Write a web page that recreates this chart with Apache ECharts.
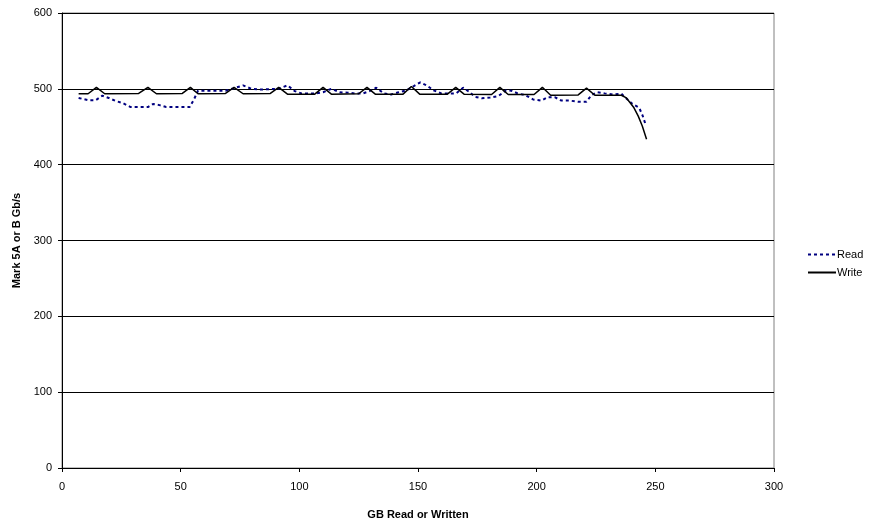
<!DOCTYPE html>
<html>
<head>
<meta charset="utf-8">
<script src="https://cdn.jsdelivr.net/npm/echarts@6/dist/echarts.min.js"></script>
<style>html,body{margin:0;padding:0;background:#fff}#c{width:885px;height:525px}</style>
</head>
<body>
<div id="c"></div>
<script>
var readX = [7,11.1,14.2,17,19.7,22.6,25.4,28.9,32.5,36.2,38.3,41.1,43.9,47.5,51,53.8,55.6,57.3,61,65,68.9,72.1,76.3,79.8,83.5,87.5,91,95,98.1,100.9,104,107.2,110,113.5,117,120.5,123.3,126.8,129.6,132.4,135.6,138.7,141.8,145.1,148.2,151,153.7,156.6,159.8,163,166.1,169,171.8,173.9,176.9,180.4,183.9,187.1,189.3,192,195.3,198.5,202,204.7,207.6,210.4,213.9,217.4,221,223,225.4,228.7,232.3,235.7,240.2,243.2,244.6,246];
var readY = [488,485,485,491,488,484,481.5,476,476,476,480,478.5,476,476,476,476,486,497.5,497.5,497.5,497.5,500.5,504.5,500,499,499.5,500,504.5,497,494,494,494,495.5,500,495.5,495,494,494,497,501.5,494,492.5,495.5,498,503.5,508.5,504.5,498,494,494,494,501.5,495.5,489.5,487.5,488.5,490.5,498,497.5,494,491.5,486,484.5,489,489,484.5,484.5,483,483,491.5,495.5,494,492.5,493.5,480.5,475,465,452];
var writeX = [7,11,14.5,18,32.3,36.2,39.8,50.7,54.1,57.3,68.9,72.5,76.3,87.8,91.3,95,106.5,110,113.5,125,128.5,132,143.7,147.2,150.7,162.4,165.9,169.4,181,184.5,188,198.9,202.4,205.9,217.5,221,224.5,235.7,237.8,239.3,241,242.8,244.5,246.3];
var writeY = [493.5,493.5,502,493.5,494,502,493.5,494,502,493.5,494,502,493.5,494,502,493,493,502,493,493.5,502,493,493,503,493,493,502,493,492.5,502,492.5,492.5,502,491.5,492,501,491.5,491.5,488,482,475,464,451,433.5];
var yTicks = [0,100,200,300,400,500,600];
var xTicks = [0,50,100,150,200,250,300];

function pairs(xs, ys){ return xs.map(function(x,i){ return [x, ys[i]]; }); }

var font = 'Liberation Sans, Arial, sans-serif';
var chart = echarts.init(document.getElementById('c'), null, {renderer:'canvas'});
chart.setOption({
  animation:false,
  backgroundColor:'#fff',
  grid:{left:62, right:111, top:13, bottom:54, show:true, borderColor:'#808080', borderWidth:1},
  legend:{
    orient:'vertical', left:802, top:244, itemWidth:28, itemHeight:10, itemGap:7,
    itemStyle:{opacity:0},
    textStyle:{fontFamily:font, fontSize:11, color:'#000', padding:[0,0,0,-4]},
    data:['Read','Write']
  },
  xAxis:{
    type:'value', min:xTicks[0], max:xTicks[xTicks.length-1], interval:50,
    name:'GB Read or Written', nameLocation:'middle', nameGap:41,
    nameTextStyle:{fontFamily:font, fontSize:11, fontWeight:'bold', color:'#000'},
    axisLine:{show:true, lineStyle:{color:'#000', width:1}},
    axisTick:{show:true, length:4, lineStyle:{color:'#000'}},
    axisLabel:{fontFamily:font, fontSize:11, color:'#000', margin:13},
    splitLine:{show:false}
  },
  yAxis:{
    type:'value', min:yTicks[0], max:yTicks[yTicks.length-1], interval:100,
    name:'Mark 5A or B Gb/s', nameLocation:'middle', nameGap:40, nameRotate:90,
    nameTextStyle:{fontFamily:font, fontSize:11, fontWeight:'bold', color:'#000'},
    axisLine:{show:true, lineStyle:{color:'#000', width:1}},
    axisTick:{show:true, length:4, lineStyle:{color:'#000'}},
    axisLabel:{fontFamily:font, fontSize:11, color:'#000', margin:10},
    splitLine:{show:true, lineStyle:{color:'#000', width:1}}
  },
  series:[
    {name:'Read', type:'line', data:pairs(readX, readY), symbol:'none', showSymbol:false,
     lineStyle:{color:'#000080', width:2, type:[3,3]}, itemStyle:{color:'#000080'}, z:3},
    {name:'Write', type:'line', data:pairs(writeX, writeY), symbol:'none', showSymbol:false,
     lineStyle:{color:'#000', width:1.5, type:'solid'}, itemStyle:{color:'#000'}, z:4}
  ]
});
</script>
</body>
</html>
